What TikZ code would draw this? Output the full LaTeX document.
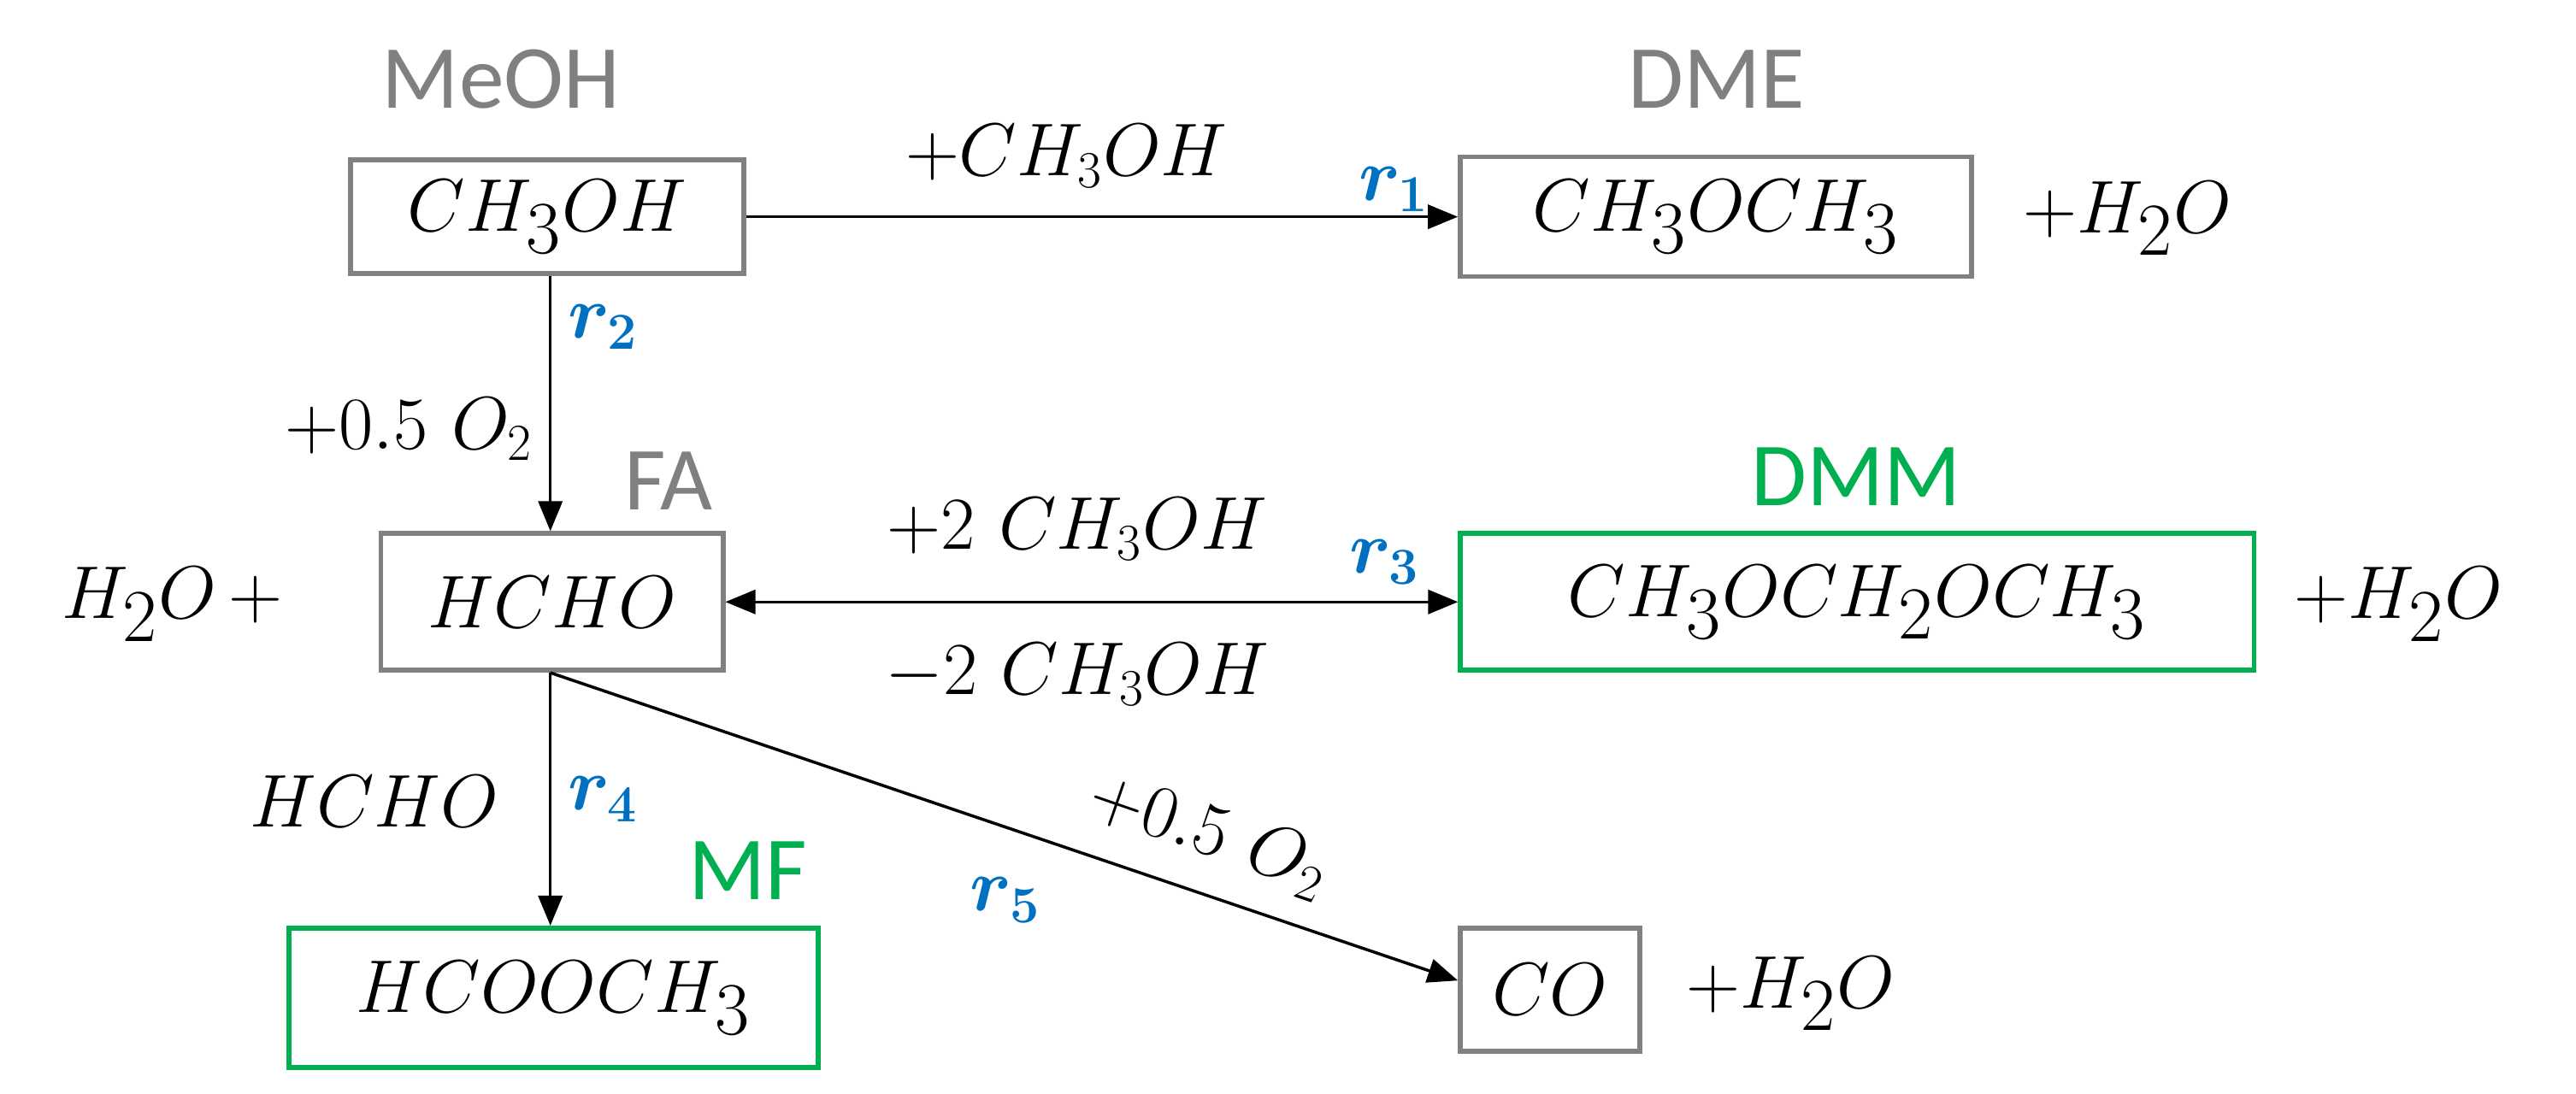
\documentclass[tikz,border=0pt]{standalone}
\usepackage{fontspec}
\usepackage{amsmath,bm}
\newfontfamily\lab{Carlito}
\usetikzlibrary{arrows.meta}
\definecolor{gr}{HTML}{808080}
\definecolor{gn}{HTML}{00B050}
\definecolor{bl}{HTML}{0070C0}
\tikzset{
 big/.style={font=\fontsize{44}{48}\selectfont},
 small/.style={font=\fontsize{26}{30}\selectfont},
 bx/.style={line width=1.6pt,inner sep=0,big},
 glab/.style={text=gr,font=\lab\fontsize{30}{34}\selectfont},
 nlab/.style={text=gn,font=\lab\fontsize{30}{34}\selectfont},
 rl/.style={text=bl,font=\fontsize{27}{30}\selectfont},
 arr/.style={line width=1pt,-{Triangle[length=10pt,width=8pt]}},
}
\begin{document}
\begin{tikzpicture}[x=0.019216cm,y=-0.019216cm]
\useasboundingbox (0,0) rectangle (1568,666);
\node[bx,draw=gr,minimum width=4.6cm,minimum height=1.33cm] (meoh) at (333,132) {$CH_3OH$};
\node[glab] (lmeoh) at (305,48) {MeOH};
\node[bx,draw=gr,minimum width=5.98cm,minimum height=1.4cm] (dme) at (1044.5,132) {$CH_3OCH_3$};
\node[glab] (ldme) at (1045,48) {DME};
\node[big] (w1) at (1295,133) {$+H_2O$};
\draw[arr] (meoh.east) -- (dme.west) node[pos=0.45,above=6pt,small] {$+CH_3OH$} node[pos=0.91,above=-2pt,rl] {$\bm{r_1}$};

\node[bx,draw=gr,minimum width=4.0cm,minimum height=1.6cm] (fa) at (336,366.5) {$HCHO$};
\node[glab] (lfa) at (407,293) {FA};
\node[big] (w0) at (105,368) {$H_2O\,+$};
\draw[arr] (meoh.south) ++(2,0) coordinate (m2) (m2) -- (m2 |- fa.north) node[pos=0.2,right=2pt,rl] {$\bm{r_2}$} node[pos=0.6,left=2pt,small] {$+0.5\ O_2$};

\node[bx,draw=gn,minimum width=9.28cm,minimum height=1.6cm] (dmm) at (1130.5,366.5) {$CH_3OCH_2OCH_3$};
\node[nlab] (ldmm) at (1130,290) {DMM};
\node[big] (w3) at (1460,368) {$+H_2O$};
\draw[line width=1pt,{Triangle[length=10pt,width=8pt]}-{Triangle[length=10pt,width=8pt]}] (fa.east) -- (dmm.west) node[pos=0.48,above=10pt,small] {$+2\ CH_3OH$} node[pos=0.48,below=10pt,small] {$-2\ CH_3OH$} node[pos=0.9,above=2pt,rl] {$\bm{r_3}$};

\node[bx,draw=gn,minimum width=6.19cm,minimum height=1.63cm] (mf) at (337,607.5) {$HCOOCH_3$};
\node[nlab] (lmf) at (455,530) {MF};
\draw[arr] (fa.south -| m2) coordinate (f2) -- (f2 |- mf.north) node[pos=0.5,right=2pt,rl] {$\bm{r_4}$};
\node[small] (lh) at (228,488) {$HCHO$};

\node[bx,draw=gr,minimum width=2.1cm,minimum height=1.44cm] (co) at (943.5,602.5) {$CO$};
\node[big] (w5) at (1090,605) {$+H_2O$};
\draw[arr] (f2) -- ([yshift=3pt]co.west);
\node[small,rotate=-19] (lo) at (736,508) {$+0.5\ O_2$};
\node[rl] (r5) at (612,548) {$\bm{r_5}$};
\end{tikzpicture}
\end{document}
